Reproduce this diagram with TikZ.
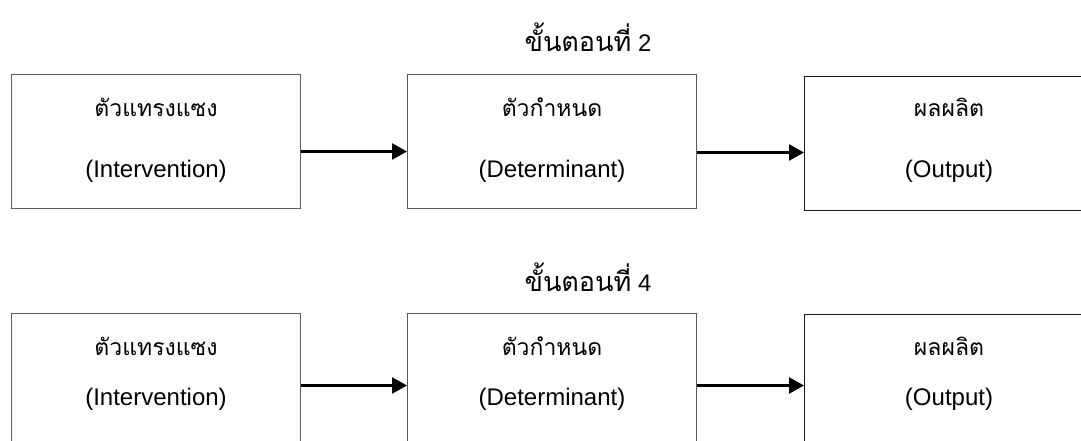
\documentclass[tikz,border=0pt]{standalone}
\usepackage{fontspec}
\setmainfont{Liberation Sans}
\newfontfamily\thaifont[Script=Thai]{Loma}
\usetikzlibrary{arrows.meta}
\tikzset{
  box/.style={draw=black!65, line width=1pt, rectangle, inner sep=0pt,
    minimum width=289pt, minimum height=134pt, anchor=north west},
  boxdark/.style={box, draw=black!90},
  arr/.style={line width=2.6pt, -{Triangle[length=15pt,width=16pt]}},
  th/.style={anchor=base, inner sep=0pt, font=\thaifont\fontsize{23}{27}\selectfont},
  en/.style={anchor=base, inner sep=0pt, font=\fontsize{24}{28}\selectfont},
  ttl/.style={anchor=base, inner sep=0pt, font=\fontsize{24}{28}\selectfont},
}
\newcommand{\ttlthai}[1]{{\thaifont\fontsize{27}{32}\selectfont #1}}
\begin{document}
\begin{tikzpicture}[x=1pt,y=-1pt]
\useasboundingbox (0,0) rectangle (1081,441);
\clip (0,0) rectangle (1081,441);
% ---- top row (step 2)
\node[ttl] (t1) at (588,52) {\ttlthai{ขั้นตอนที่} 2};
\node[box] (a1) at (11,74) {};
\node[box] (a2) at (407,74) {};
\node[boxdark] (a3) at (804,76) {};
\node[th] (a1t) at ([yshift=-43pt]a1.north) {ตัวแทรงแซง};
\node[en] (a1e) at ([yshift=-103pt]a1.north) {(Intervention)};
\node[th] (a2t) at ([yshift=-43pt]a2.north) {ตัวกำหนด};
\node[en] (a2e) at ([yshift=-103pt]a2.north) {(Determinant)};
\node[th] (a3t) at ([yshift=-41pt]a3.north) {ผลผลิต};
\node[en] (a3e) at ([yshift=-101pt]a3.north) {(Output)};
\draw[arr] ([yshift=-10pt]a1.east) coordinate (s1) -- (s1 -| a2.west);
\draw[arr] ([yshift=-11pt]a2.east) coordinate (s2) -- (s2 -| a3.west);
% ---- bottom row (step 4)
\node[ttl] (t2) at (588,291) {\ttlthai{ขั้นตอนที่} 4};
\node[box] (b1) at (11,313) {};
\node[box] (b2) at (407,313) {};
\node[boxdark] (b3) at (804,314) {};
\node[th] (b1t) at ([yshift=-42pt]b1.north) {ตัวแทรงแซง};
\node[en] (b1e) at ([yshift=-92pt]b1.north) {(Intervention)};
\node[th] (b2t) at ([yshift=-42pt]b2.north) {ตัวกำหนด};
\node[en] (b2e) at ([yshift=-92pt]b2.north) {(Determinant)};
\node[th] (b3t) at ([yshift=-41pt]b3.north) {ผลผลิต};
\node[en] (b3e) at ([yshift=-91pt]b3.north) {(Output)};
\draw[arr] ([yshift=-5pt]b1.east) coordinate (u1) -- (u1 -| b2.west);
\draw[arr] ([yshift=-5pt]b2.east) coordinate (u2) -- (u2 -| b3.west);
\end{tikzpicture}
\end{document}
